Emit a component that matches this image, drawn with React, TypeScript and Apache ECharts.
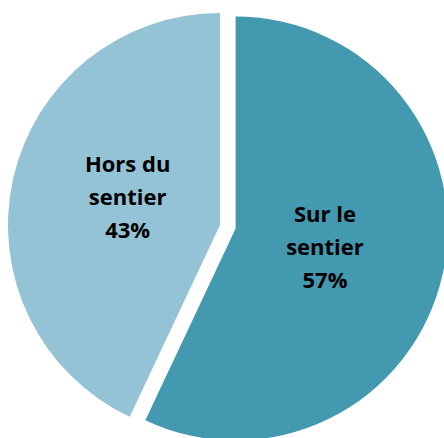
import React, { useEffect, useRef } from "react";
import * as echarts from "echarts";

const categories = ["Sur le\nsentier", "Hors du\nsentier"];
const values = [57, 43];
const colors = ["#4399B0", "#93C3D5"];
const explodedIndex = 0;

export default function App() {
  const ref = useRef<HTMLDivElement>(null);
  useEffect(() => {
    document.body.style.margin = "0";
    const chart = echarts.init(ref.current!, undefined, { renderer: "svg" });
    const labelStyle = {
      show: true,
      position: "inside" as const,
      formatter: (p: any) => `${p.name}\n${p.value}%`,
      color: "#000",
      fontFamily: "Open Sans",
      fontWeight: "bold" as const,
      fontSize: 22,
      lineHeight: 33,
      align: "center" as const,
    };
    chart.setOption({
      animation: false,
      backgroundColor: "#fff",
      series: [
        {
          type: "pie",
          center: [220, 225],
          radius: 212,
          startAngle: 90,
          clockwise: true,
          selectedMode: "single",
          selectedOffset: 16,
          emphasis: { disabled: true },
          label: labelStyle,
          labelLine: { show: false },
          labelLayout: (p: any) =>
            p.dataIndex === 0 ? { dx: -17, dy: -6 } : { dx: 14, dy: -5 },
          data: categories.map((name, i) => ({
            name,
            value: values[i],
            selected: i === explodedIndex,
            itemStyle: { color: colors[i], borderWidth: 0 },
            select: {
              itemStyle: { color: colors[i], borderWidth: 0 },
              label: { color: "#000" },
            },
          })),
        },
      ],
    });
    return () => chart.dispose();
  }, []);
  return <div ref={ref} style={{ width: 444, height: 438 }} />;
}
